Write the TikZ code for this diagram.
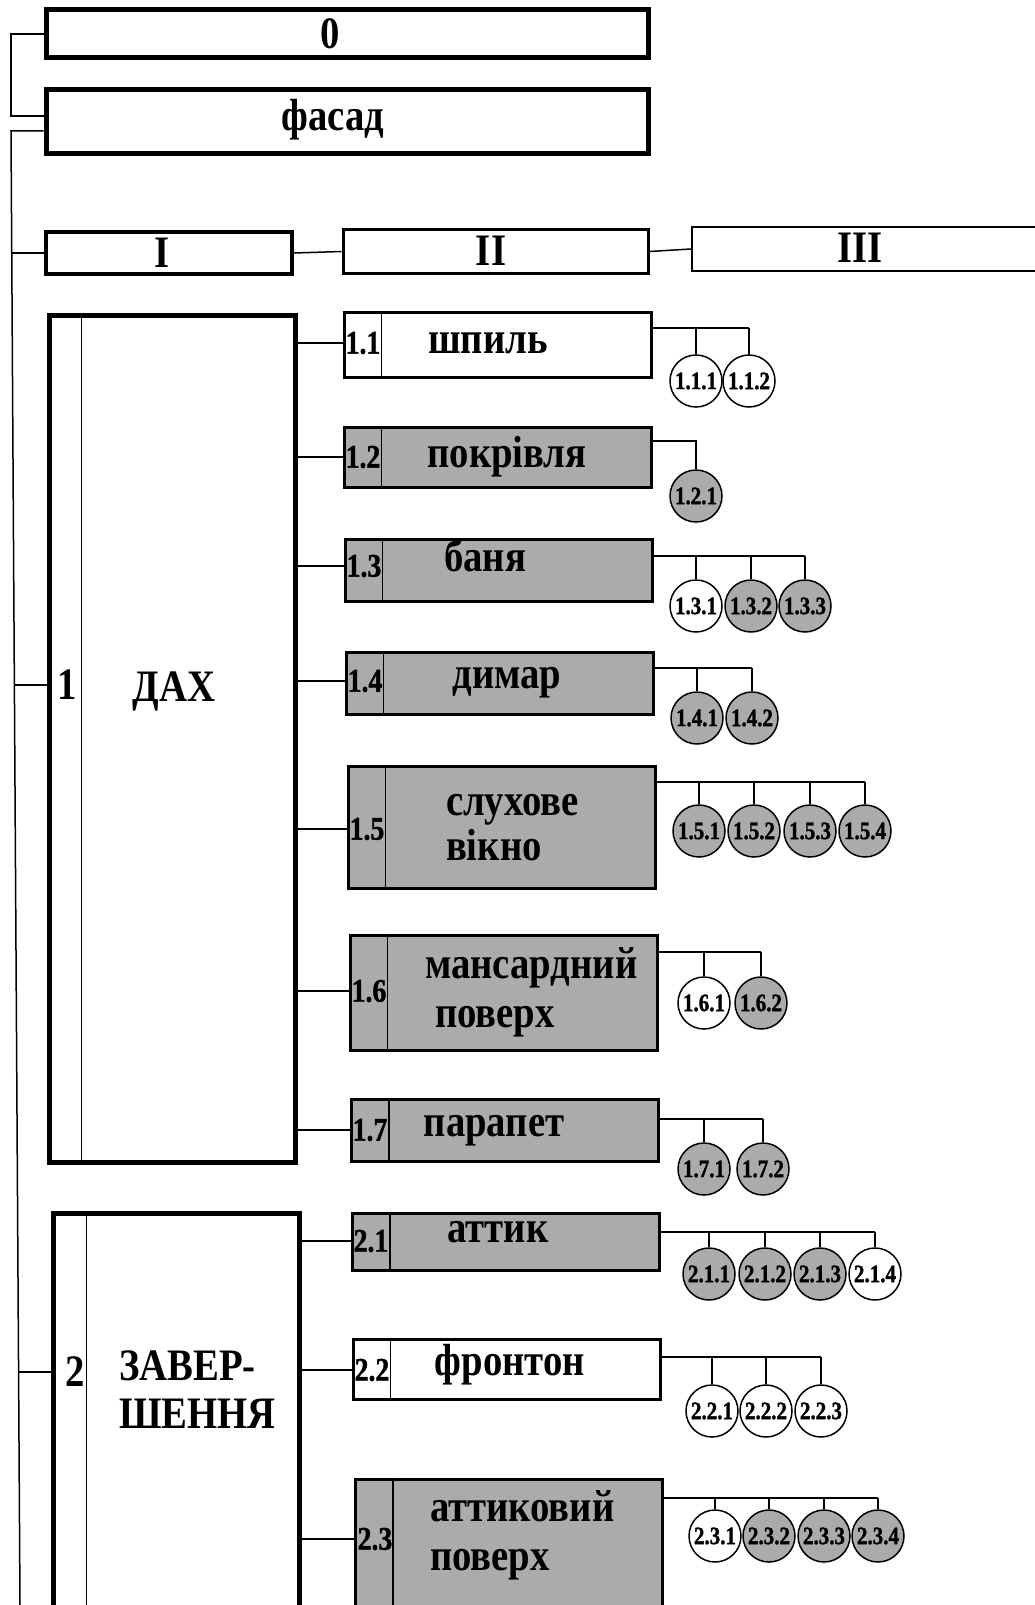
\documentclass[tikz,border=0pt]{standalone}
\usepackage{fontspec}
\setmainfont{Liberation Serif}[FakeStretch=0.86]
\newfontfamily\numfont{Liberation Serif Bold}[FakeStretch=0.84, FakeBold=1.2]
\usepackage{tikz}
\definecolor{shade}{gray}{0.67}

\begin{document}
\begin{tikzpicture}[x=1pt, y=-1pt, line width=1.5pt,
        big/.style = {font=\fontsize{45}{48}\selectfont\bfseries},
        frame/.style = {draw, inner sep=0pt},
        part/.style = {draw, line width=3pt, inner sep=0pt,
            minimum width=307pt},
        partg/.style = {part, fill=shade},
        num/.style = {font=\fontsize{33}{35}\numfont},
        word/.style = {big, anchor=base},
        elem/.style = {circle, draw, minimum size=52pt, inner sep=0pt,
            font=\fontsize{25}{27}\numfont},
        elemg/.style = {elem, fill=shade}]

        \useasboundingbox (0,0) rectangle (1035,1605);

        % Top boxes
        \node[frame, line width=5pt, minimum width=602pt, minimum height=48pt] (zero) at (347,34) {};
        \node[big] (zerotxt) at (330,34) {0};
        \node[frame, line width=5pt, minimum width=602pt, minimum height=64pt] (facade) at (347,122) {};
        \node[word] (facadetxt) at (333,131) {фасад};

        % Levels
        \node[frame, line width=4pt, minimum width=246pt, minimum height=42pt] (lvlI) at (169,253) {};
        \node[big] (lvlItxt) at (162,253) {I};
        \node[frame, line width=3pt, minimum width=305pt, minimum height=43pt] (lvlII) at (495.5,251.5) {};
        \node[big] (lvlIItxt) at (491,251) {II};
        \node[frame, line width=2pt, minimum width=348pt, minimum height=44pt] (lvlIII) at (866,249) {};
        \node[big] (lvlIIItxt) at (860,248) {III};
        \draw (lvlI.east) -- (lvlII.west);
        \draw (lvlII.east) -- (lvlIII.west);

        % Left spine
        \coordinate (br1) at (11,34);
        \coordinate (br2) at (11,116);
        \coordinate (sptop) at (11,131);
        \coordinate (spbot) at (20,1605);
        \coordinate (sp1) at (12,253);
        \coordinate (sp2) at (14,685);
        \coordinate (sp3) at (19,1372);
        \draw (zero.west) -- (br1) -- (br2) -- (facade.west |- br2);
        \draw (facade.west |- sptop) -- (sptop) -- (spbot);

        % Group 1: roof
        \node[draw, line width=5pt, minimum width=246pt, minimum height=847pt] (roof) at (172,738.5) {};
        \draw ([xshift=35pt]roof.north west) -- ([xshift=35pt]roof.south west);
        \node[big] (g1) at (67,685) {1};
        \node[word] (roofname) at (174,701) {ДАХ};
        \draw (sp1) -- (lvlI.west);
        \draw (sp2) -- (roof.west |- sp2);

        % Group 2: finish
        \node[draw, line width=5pt, minimum width=246pt, minimum height=397pt] (finish) at (176,1411.5) {};
        \draw ([xshift=36pt]finish.north west) -- ([xshift=36pt]finish.south west);
        \node[big] (g2) at (75,1372) {2};
        \node[word, anchor=base west] (finname1) at (115,1380) {ЗАВЕР-};
        \node[word, anchor=base west] (finname2) at (115,1428) {ШЕННЯ};
        \draw (sp3) -- (finish.west |- sp3);

        % Parts
        \node[part, minimum height=65pt] (s11) at (497.5,344.5) {};
        \node[partg, minimum height=60pt] (s12) at (497.5,457) {};
        \node[partg, minimum height=62pt] (s13) at (498.5,570) {};
        \node[partg, minimum height=62pt] (s14) at (499.5,683) {};
        \node[partg, minimum height=122pt] (s15) at (501.5,827) {};
        \node[partg, minimum height=115pt] (s16) at (503.5,992.5) {};
        \node[partg, minimum height=62pt] (s17) at (505,1130) {};
        \node[partg, minimum height=57pt] (s21) at (506,1241.5) {};
        \node[part, minimum height=60pt] (s22) at (506.5,1369) {};
        \node[partg, minimum height=136pt] (s23) at (509,1547) {};
        \foreach \b in {s11,s12,s13,s14,s15,s16,s17,s21,s22,s23}
            \draw ([xshift=39pt]\b.north west) -- ([xshift=39pt]\b.south west);

        % Part numbers
        \node[num] (n11) at (363,343) {1.1};
        \node[num] (n12) at (363,457) {1.2};
        \node[num] (n13) at (364,566) {1.3};
        \node[num] (n14) at (365,681) {1.4};
        \node[num] (n15) at (367,829) {1.5};
        \node[num] (n16) at (369,991) {1.6};
        \node[num] (n17) at (370,1130) {1.7};
        \node[num] (n21) at (371,1241) {2.1};
        \node[num] (n22) at (372,1370) {2.2};
        \node[num] (n23) at (375,1539) {2.3};
        \foreach \n in {11,12,13,14,15,16,17}
            \draw (roof.east |- n\n) -- (s\n.west |- n\n);
        \foreach \n in {21,22,23}
            \draw (finish.east |- n\n) -- (s\n.west |- n\n);

        % Part names
        \node[word] (t11) at (488,353.5) {шпиль};
        \node[word] (t12) at (507,467.5) {покрівля};
        \node[word] (t13) at (485,571.5) {баня};
        \node[word] (t14) at (507,688.5) {димар};
        \node[word, anchor=base west] (t15a) at (442,815.5) {слухове};
        \node[word, anchor=base west] (t15b) at (442,860.5) {вікно};
        \node[word, anchor=base west] (t16a) at (421,978.5) {мансардний};
        \node[word, anchor=base west] (t16b) at (431,1027.5) {поверх};
        \node[word] (t17) at (494,1136.5) {парапет};
        \node[word] (t21) at (498,1242.5) {аттик};
        \node[word] (t22) at (510,1375.5) {фронтон};
        \node[word, anchor=base west] (t23a) at (426,1521.5) {аттиковий};
        \node[word, anchor=base west] (t23b) at (426,1570.5) {поверх};

        % Elements 1.1
        \coordinate (bar11) at (s11.east |- 0,328);
        \foreach \x/\f [count=\k] in {696/elem,749/elem} {
            \node[\f] (c11\k) at (\x,381) {1.1.\k};
            \draw (c11\k.north) -- (c11\k.north |- bar11);
        }
        \draw (bar11) -- (c112.north |- bar11);

        % Elements 1.2
        \coordinate (bar12) at (s12.east |- 0,441);
        \node[elemg] (c121) at (696,496) {1.2.1};
        \draw (bar12) -| (c121.north);

        % Elements 1.3
        \coordinate (bar13) at (s13.east |- 0,556);
        \foreach \x/\f [count=\k] in {696/elem,751/elemg,805/elemg} {
            \node[\f] (c13\k) at (\x,606) {1.3.\k};
            \draw (c13\k.north) -- (c13\k.north |- bar13);
        }
        \draw (bar13) -- (c133.north |- bar13);

        % Elements 1.4
        \coordinate (bar14) at (s14.east |- 0,668);
        \foreach \x/\f [count=\k] in {697/elemg,752/elemg} {
            \node[\f] (c14\k) at (\x,718) {1.4.\k};
            \draw (c14\k.north) -- (c14\k.north |- bar14);
        }
        \draw (bar14) -- (c142.north |- bar14);

        % Elements 1.5
        \coordinate (bar15) at (s15.east |- 0,782);
        \foreach \x/\f [count=\k] in {699/elemg,754/elemg,810/elemg,865/elemg} {
            \node[\f] (c15\k) at (\x,831) {1.5.\k};
            \draw (c15\k.north) -- (c15\k.north |- bar15);
        }
        \draw (bar15) -- (c154.north |- bar15);

        % Elements 1.6
        \coordinate (bar16) at (s16.east |- 0,952);
        \foreach \x/\f [count=\k] in {704/elem,761/elemg} {
            \node[\f] (c16\k) at (\x,1003) {1.6.\k};
            \draw (c16\k.north) -- (c16\k.north |- bar16);
        }
        \draw (bar16) -- (c162.north |- bar16);

        % Elements 1.7
        \coordinate (bar17) at (s17.east |- 0,1119);
        \foreach \x/\f [count=\k] in {704/elemg,763/elemg} {
            \node[\f] (c17\k) at (\x,1169) {1.7.\k};
            \draw (c17\k.north) -- (c17\k.north |- bar17);
        }
        \draw (bar17) -- (c172.north |- bar17);

        % Elements 2.1
        \coordinate (bar21) at (s21.east |- 0,1232);
        \foreach \x/\f [count=\k] in {709/elemg,765/elemg,820/elemg,875/elem} {
            \node[\f] (c21\k) at (\x,1274) {2.1.\k};
            \draw (c21\k.north) -- (c21\k.north |- bar21);
        }
        \draw (bar21) -- (c214.north |- bar21);

        % Elements 2.2
        \coordinate (bar22) at (s22.east |- 0,1357);
        \foreach \x/\f [count=\k] in {712/elem,766/elem,821/elem} {
            \node[\f] (c22\k) at (\x,1411) {2.2.\k};
            \draw (c22\k.north) -- (c22\k.north |- bar22);
        }
        \draw (bar22) -- (c223.north |- bar22);

        % Elements 2.3
        \coordinate (bar23) at (s23.east |- 0,1498);
        \foreach \x/\f [count=\k] in {715/elem,769/elemg,824/elemg,878/elemg} {
            \node[\f] (c23\k) at (\x,1536) {2.3.\k};
            \draw (c23\k.north) -- (c23\k.north |- bar23);
        }
        \draw (bar23) -- (c234.north |- bar23);

    \end{tikzpicture}
\end{document}
